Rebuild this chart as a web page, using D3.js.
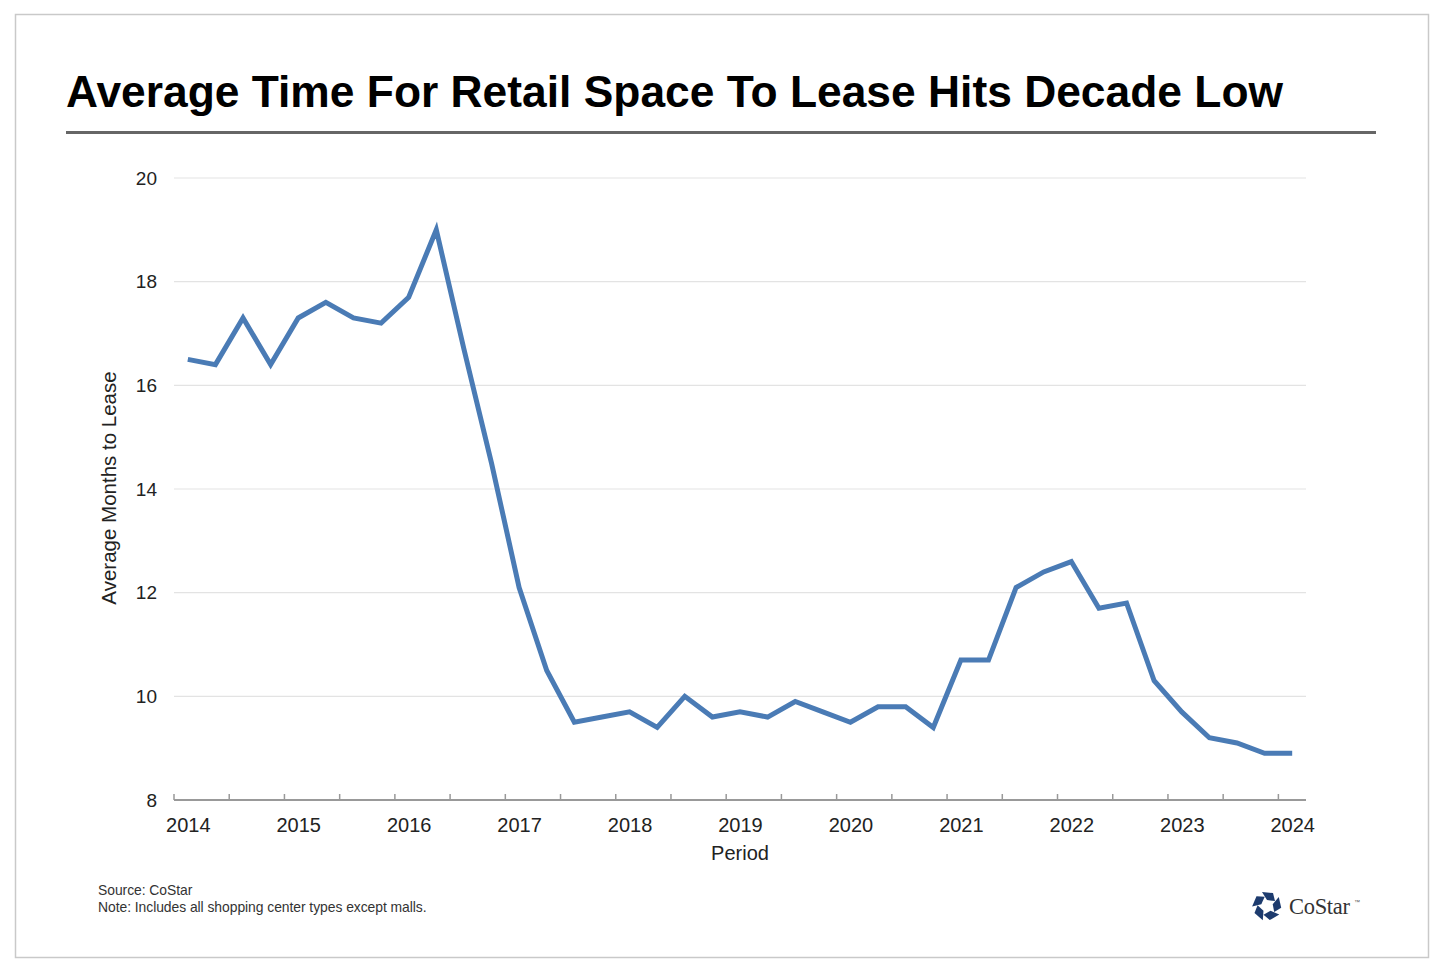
<!DOCTYPE html>
<html>
<head>
<meta charset="utf-8">
<script src="https://cdn.jsdelivr.net/npm/d3@7"></script>
<style>
  html, body { margin: 0; padding: 0; background: #fff; }
  svg { display: block; font-family: "Liberation Sans", Arial, sans-serif; }
</style>
</head>
<body>
<svg id="chart" width="1440" height="975"></svg>
<script>
const titleText = "Average Time For Retail Space To Lease Hits Decade Low";
const yAxisTitle = "Average Months to Lease";
const xAxisTitle = "Period";
const sourceLines = ["Source: CoStar", "Note: Includes all shopping center types except malls."];

const quarters = [
  "2014 Q1","2014 Q2","2014 Q3","2014 Q4",
  "2015 Q1","2015 Q2","2015 Q3","2015 Q4",
  "2016 Q1","2016 Q2","2016 Q3","2016 Q4",
  "2017 Q1","2017 Q2","2017 Q3","2017 Q4",
  "2018 Q1","2018 Q2","2018 Q3","2018 Q4",
  "2019 Q1","2019 Q2","2019 Q3","2019 Q4",
  "2020 Q1","2020 Q2","2020 Q3","2020 Q4",
  "2021 Q1","2021 Q2","2021 Q3","2021 Q4",
  "2022 Q1","2022 Q2","2022 Q3","2022 Q4",
  "2023 Q1","2023 Q2","2023 Q3","2023 Q4",
  "2024 Q1"
];
const monthsToLease = [
  16.5, 16.4, 17.3, 16.4,
  17.3, 17.6, 17.3, 17.2,
  17.7, 19.0, 16.7, 14.5,
  12.1, 10.5, 9.5, 9.6,
  9.7, 9.4, 10.0, 9.6,
  9.7, 9.6, 9.9, 9.7,
  9.5, 9.8, 9.8, 9.4,
  10.7, 10.7, 12.1, 12.4,
  12.6, 11.7, 11.8, 10.3,
  9.7, 9.2, 9.1, 8.9,
  8.9
];
const yTicks = [8, 10, 12, 14, 16, 18, 20];
const yearLabels = ["2014","2015","2016","2017","2018","2019","2020","2021","2022","2023","2024"];

const svg = d3.select("#chart");

// outer frame
svg.append("rect").attr("x", 15.5).attr("y", 14.5).attr("width", 1413).attr("height", 943)
  .attr("fill", "#fff").attr("stroke", "#c9c9c9").attr("stroke-width", 1.5);

// title
svg.append("text").attr("x", 66).attr("y", 107)
  .attr("font-size", 45).attr("font-weight", "bold").attr("fill", "#000")
  .attr("textLength", 1217).attr("lengthAdjust", "spacingAndGlyphs")
  .text(titleText);
svg.append("line").attr("x1", 66).attr("x2", 1376).attr("y1", 132.5).attr("y2", 132.5)
  .attr("stroke", "#666").attr("stroke-width", 3);

const x = d3.scalePoint().domain(quarters).range([174, 1306]).padding(0.5);
const y = d3.scaleLinear().domain([8, 20]).range([800, 178]);
const step = x.step();

// gridlines
svg.append("g").selectAll("line").data(yTicks.filter(d => d !== 8)).join("line")
  .attr("x1", 174).attr("x2", 1306)
  .attr("y1", d => y(d)).attr("y2", d => y(d))
  .attr("stroke", "#e3e3e3").attr("stroke-width", 1.2);

// y axis labels
const yAxis = d3.axisLeft(y).tickValues(yTicks).tickSize(0).tickPadding(0).tickFormat(d3.format("d"));
const yg = svg.append("g").attr("transform", "translate(157,0)").call(yAxis);
yg.select(".domain").remove();
yg.selectAll("text").attr("font-size", 19).attr("fill", "#222").attr("font-family", "Liberation Sans, Arial, sans-serif");

// x axis line
svg.append("line").attr("x1", 174).attr("x2", 1306).attr("y1", 800).attr("y2", 800)
  .attr("stroke", "#999").attr("stroke-width", 2);
// tick marks at category boundaries every 2 quarters
const tickQuarters = quarters.filter((q, i) => i % 2 === 0);
svg.append("g").selectAll("line").data(tickQuarters).join("line")
  .attr("x1", d => x(d) - step / 2).attr("x2", d => x(d) - step / 2)
  .attr("y1", 800).attr("y2", 794)
  .attr("stroke", "#999").attr("stroke-width", 1.5);

// x labels (Q1 of each year)
const labelQuarters = yearLabels.map(yv => yv + " Q1");
const xAxis = d3.axisBottom(x).tickValues(labelQuarters).tickSize(0).tickPadding(0)
  .tickFormat(d => d.slice(0, 4));
const xg = svg.append("g").attr("transform", "translate(0,818)").call(xAxis);
xg.select(".domain").remove();
xg.selectAll("text").attr("font-size", 20).attr("fill", "#222").attr("font-family", "Liberation Sans, Arial, sans-serif");

// axis titles
svg.append("text").attr("x", 740).attr("y", 860).attr("text-anchor", "middle")
  .attr("font-size", 20).attr("fill", "#222").text(xAxisTitle);
svg.append("text").attr("transform", "translate(116,488) rotate(-90)").attr("text-anchor", "middle")
  .attr("font-size", 20.5).attr("fill", "#222").text(yAxisTitle);

// line
const line = d3.line().x((d, i) => x(quarters[i])).y(d => y(d));
svg.append("path").datum(monthsToLease).attr("d", line)
  .attr("fill", "none").attr("stroke", "#4a7bb5").attr("stroke-width", 5)
  .attr("stroke-linejoin", "miter").attr("stroke-linecap", "butt");

// source notes
svg.append("g").selectAll("text").data(sourceLines).join("text")
  .attr("x", 98).attr("y", (d, i) => 895 + i * 17)
  .attr("font-size", 13.9).attr("fill", "#333").attr("letter-spacing", -0.05)
  .text(d => d);

// CoStar logo
const logo = svg.append("g").attr("transform", "translate(1267,906)");
for (let k = 0; k < 5; k++) {
  logo.append("path")
    .attr("d", "M-5,-14 L6,-13 L8,-5 L0,-6 Z")
    .attr("transform", `rotate(${k * 72})`)
    .attr("fill", "#1d3b6e");
}
svg.append("text").attr("x", 1289).attr("y", 914)
  .style("font-family", "'Liberation Serif', 'DejaVu Serif', 'Times New Roman', serif")
  .attr("font-size", 22.5).attr("fill", "#333").attr("letter-spacing", -0.3).text("CoStar");
svg.append("text").attr("x", 1354).attr("y", 904)
  .attr("font-size", 6).attr("fill", "#555").text("™");
</script>
</body>
</html>
